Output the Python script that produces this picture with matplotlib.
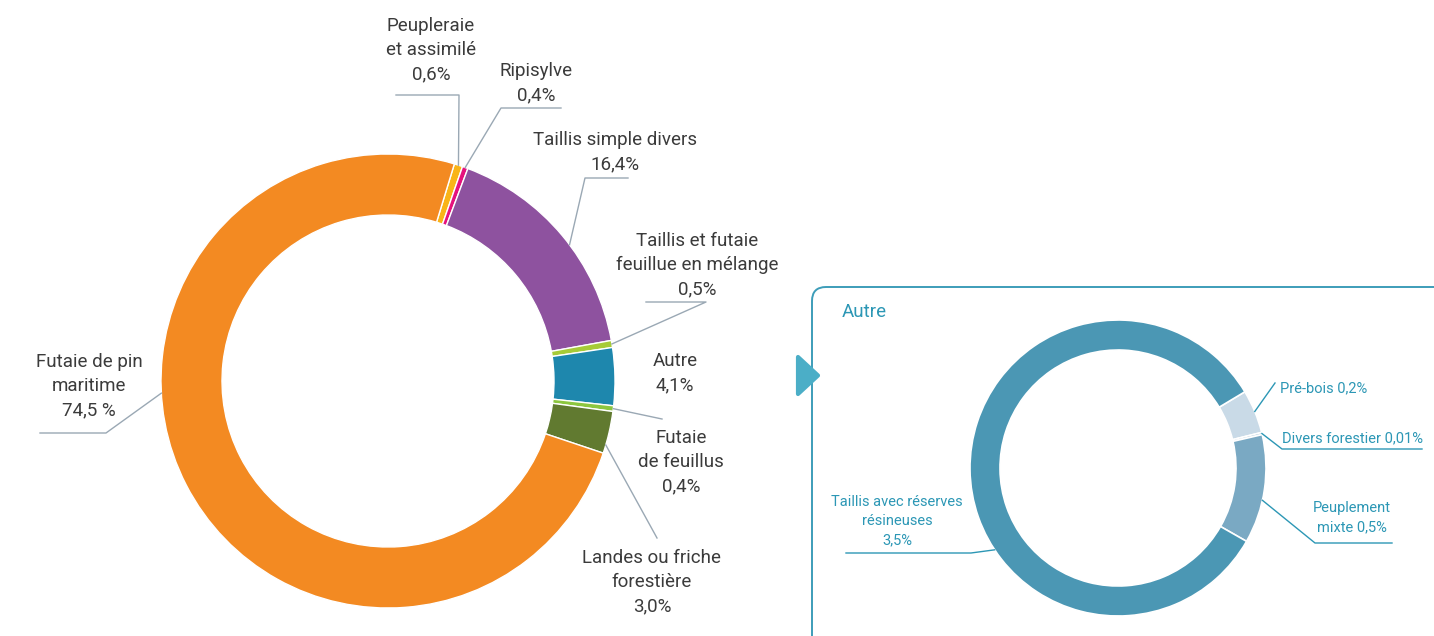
import numpy as np
import matplotlib.pyplot as plt
from matplotlib.patches import FancyBboxPatch, Polygon

W, H = 1434, 636

# répartition des formations forestières (%)
main_labels = ["Peupleraie\net assimilé", "Ripisylve", "Taillis simple divers",
               "Taillis et futaie\nfeuillue en mélange", "Autre", "Futaie\nde feuillus",
               "Landes ou friche\nforestière", "Futaie de pin\nmaritime"]
main_values = [0.6, 0.4, 16.4, 0.5, 4.1, 0.4, 3.0, 74.5]
main_pct = ["0,6%", "0,4%", "16,4%", "0,5%", "4,1%", "0,4%", "3,0%", "74,5 %"]
main_colors = ["#F9B418", "#E5127D", "#8E529F", "#A6CB38", "#1E87AD",
               "#8CC63F", "#617A30", "#F38A22"]

# détail de la part "Autre"
autre_labels = ["Pré-bois", "Divers forestier", "Peuplement\nmixte",
                "Taillis avec réserves\nrésineuses"]
autre_values = [0.2, 0.01, 0.5, 3.5]
autre_pct = ["0,2%", "0,01%", "0,5%", "3,5%"]
autre_sep = [" ", " ", " ", "\n"]
autre_colors = ["#C9DAE7", "#A3C1D4", "#7AA9C3", "#4B97B4"]

TEXT = "#3B3B3B"
TEAL = "#2C97B5"
LEAD = "#9AA8B4"

plt.rcParams['font.family'] = ['Roboto', 'DejaVu Sans']


def Y(y):
    return H - y


fig = plt.figure(figsize=(W / 100, H / 100), dpi=100)
ax = fig.add_axes([0, 0, 1, 1])

c1, r1 = (388, Y(381)), 227
w1, _ = ax.pie(main_values, colors=main_colors, radius=r1, center=c1,
               startangle=73, counterclock=False, frame=True,
               wedgeprops=dict(width=61, edgecolor="white", linewidth=1))

c2, r2 = (1118, Y(468)), 148
w2, _ = ax.pie(autre_values, colors=autre_colors, radius=r2, center=c2,
               startangle=31, counterclock=False, frame=True,
               wedgeprops=dict(width=30, edgecolor="white", linewidth=1.2))


def anchor(w, frac, center, r):
    a = np.radians(w.theta2 - frac * (w.theta2 - w.theta1))
    return center[0] + r * np.cos(a), center[1] + r * np.sin(a)


# text position, fraction along wedge, leader path (elbow points)
main_layout = [
    ((431, 50), 0.5, [(459, 95), (396, 95)]),
    ((536, 83), 0.5, [(501, 108), (561, 108)]),
    ((615, 152), 0.55, [(585, 178), (628, 178)]),
    ((697, 265), 0.5, [(706, 302), (646, 302)]),
    ((675, 373), None, []),
    ((681, 462), 0.5, [(662, 419)]),
    ((652, 582), 0.8, [(657, 538)]),
    ((89, 386), 0.59, [(106, 433), (40, 433)]),
]
for i, (pos, frac, path) in enumerate(main_layout):
    ax.text(pos[0], Y(pos[1]), main_labels[i] + "\n" + main_pct[i],
            ha="center", va="center", fontsize=13.5, color=TEXT, linespacing=1.45)
    if frac is None:
        continue
    pts = [anchor(w1[i], frac, c1, r1)] + [(x, Y(y)) for x, y in path]
    xs, ys = zip(*pts)
    ax.plot(xs, ys, color=LEAD, lw=1)

# panel de détail
panel = FancyBboxPatch((812, -30), 700, Y(287) + 30,
                       boxstyle="round,pad=0,rounding_size=14",
                       fc="none", ec="#3D9DB9", lw=1.4)
ax.add_patch(panel)
ax.add_patch(Polygon([(798, Y(357)), (818, Y(375.5)), (798, Y(394))], closed=True,
                     fc="#4BAEC7", ec="#4BAEC7", lw=3, joinstyle="round"))
ax.text(842, Y(312), "Autre", ha="left", va="center", fontsize=13.5, color=TEAL)

autre_layout = [
    ((1280, 388), "left", 0.5, [(1275, 383)]),
    ((1282, 438), "left", 0.5, [(1282, 449), (1422, 449)]),
    ((1352, 518), "center", 0.6, [(1315, 543), (1392, 543)]),
    ((897, 521), "center", 0.39, [(971, 553), (846, 553)]),
]
for i, (pos, ha, frac, path) in enumerate(autre_layout):
    ax.text(pos[0], Y(pos[1]), autre_labels[i] + autre_sep[i] + autre_pct[i],
            ha=ha, va="center", fontsize=10.5, color=TEAL, linespacing=1.5)
    pts = [anchor(w2[i], frac, c2, r2)] + [(x, Y(y)) for x, y in path]
    xs, ys = zip(*pts)
    ax.plot(xs, ys, color=TEAL, lw=1)

ax.set_xlim(0, W)
ax.set_ylim(0, H)
ax.set_aspect("equal")
ax.axis("off")

fig.savefig("out.png", dpi=100)
